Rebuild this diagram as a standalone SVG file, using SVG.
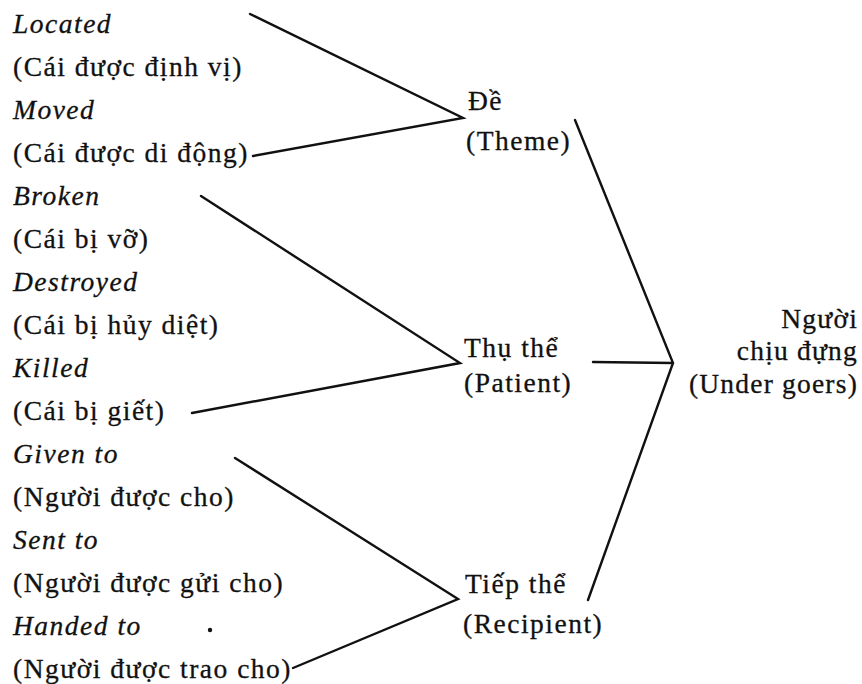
<svg xmlns="http://www.w3.org/2000/svg" width="862" height="684" viewBox="0 0 862 684">
<style>
text{font-family:"Liberation Serif","Times New Roman",serif;font-size:27.5px;fill:#111;stroke:#111;stroke-width:0.3;letter-spacing:1.5px}
.it{font-style:italic}
.r{text-anchor:end;letter-spacing:1.2px}
.c{stroke:#111;stroke-width:2.4;fill:none;stroke-linecap:round}
</style>
<rect width="862" height="684" fill="#fff"/>
<g id="leaves">
<g id="located"><text class="it" x="13" y="33">Located</text><text x="13" y="76">(Cái được định vị)</text></g>
<g id="moved"><text class="it" x="13" y="119">Moved</text><text x="13" y="162">(Cái được di động)</text></g>
<g id="broken"><text class="it" x="13" y="205">Broken</text><text x="13" y="248">(Cái bị vỡ)</text></g>
<g id="destroyed"><text class="it" x="13" y="291">Destroyed</text><text x="13" y="334">(Cái bị hủy diệt)</text></g>
<g id="killed"><text class="it" x="13" y="377">Killed</text><text x="13" y="420">(Cái bị giết)</text></g>
<g id="given"><text class="it" x="13" y="463">Given to</text><text x="13" y="506">(Người được cho)</text></g>
<g id="sent"><text class="it" x="13" y="549">Sent to</text><text x="13" y="592">(Người được gửi cho)</text></g>
<g id="handed"><text class="it" x="13" y="635">Handed to</text><text x="13" y="678">(Người được trao cho)</text></g>
</g>
<g id="theme"><text x="468" y="110">Đề</text><text x="466" y="150">(Theme)</text></g>
<g id="patient"><text x="464" y="357">Thụ thể</text><text x="464" y="392">(Patient)</text></g>
<g id="recipient"><text x="465" y="593">Tiếp thể</text><text x="463" y="633">(Recipient)</text></g>
<g id="undergoers"><text class="r" x="858" y="328">Người</text><text class="r" x="858" y="360">chịu đựng</text><text class="r" x="858" y="393">(Under goers)</text></g>
<g id="connectors">
<path class="c" d="M250 14 L463 118 L253 156"/>
<path class="c" d="M201 196 L460 363 L192 413"/>
<path class="c" d="M235 458 L458 599 L293 668"/>
<path class="c" d="M575 120 L673 363 L588 600"/>
<path class="c" d="M593 362 L673 363"/>
</g>
<circle cx="210" cy="630" r="2.2" fill="#111"/>
</svg>
